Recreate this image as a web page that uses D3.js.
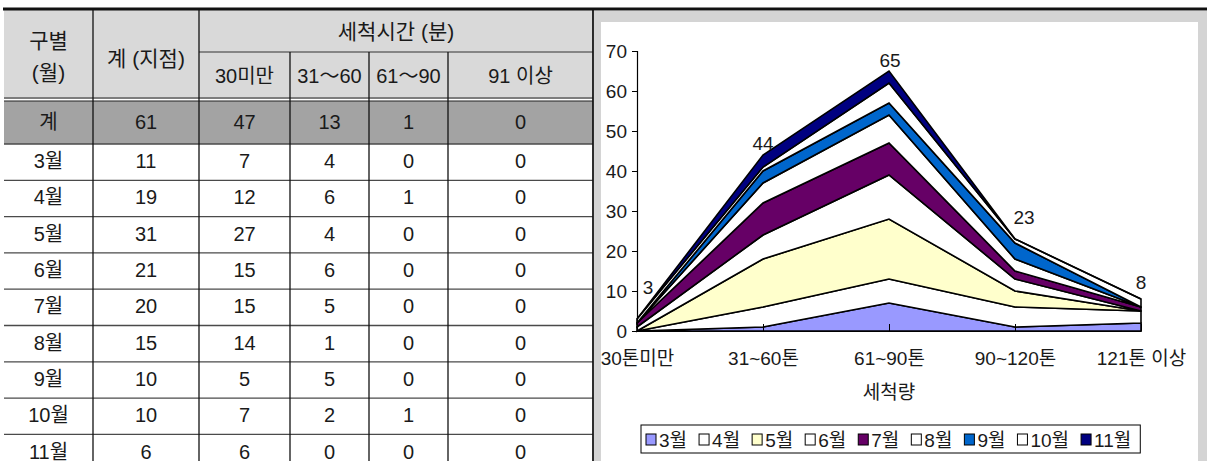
<!DOCTYPE html>
<html lang="ko">
<head>
<meta charset="utf-8">
<script src="https://cdn.jsdelivr.net/npm/d3@7"></script>
<style>
  html, body { margin: 0; padding: 0; background: #fff; }
  svg { display: block; }
  text { font-family: "Liberation Sans", "Noto Sans CJK KR", sans-serif; fill: #1a1a1a; }
</style>
</head>
<body>
<svg id="chart" width="1207" height="461"></svg>
<script>
// ---- Table: 월별 세척 지점 수 (세척시간별) ----
const tableMonths   = ["3월", "4월", "5월", "6월", "7월", "8월", "9월", "10월", "11월"];
const tableTotals   = [11, 19, 31, 21, 20, 15, 10, 10, 6];
const under30       = [7, 12, 27, 15, 15, 14, 5, 7, 6];
const from31to60    = [4, 6, 4, 6, 5, 1, 5, 2, 0];
const from61to90    = [0, 1, 0, 0, 0, 0, 0, 1, 0];
const over91        = [0, 0, 0, 0, 0, 0, 0, 0, 0];
const sumRow        = ["계", 61, 47, 13, 1, 0];
const timeHeaders   = ["30미만", "31～60", "61～90", "91  이상"];

// ---- Chart: 세척량별 월별 누적 ----
const categories = ["30톤미만", "31~60톤", "61~90톤", "90~120톤", "121톤 이상"];
const seriesNames = ["3월", "4월", "5월", "6월", "7월", "8월", "9월", "10월", "11월"];
const s3  = [0, 1, 7, 1, 2];
const s4  = [0, 5, 6, 5, 3];
const s5  = [0, 12, 15, 4, 0];
const s6  = [1, 6, 11, 3, 0];
const s7  = [1, 8, 8, 2, 1];
const s8  = [0, 5, 7, 3, 0];
const s9  = [0, 3, 3, 4, 0];
const s10 = [1, 1, 5, 1, 2];
const s11 = [0, 3, 3, 0, 0];
const yTicks = [0, 10, 20, 30, 40, 50, 60, 70];

const seriesValues = [s3, s4, s5, s6, s7, s8, s9, s10, s11];
const seriesColors = ["#9999ff", "#ffffff", "#ffffcc", "#ffffff", "#660066", "#ffffff", "#0066cc", "#ffffff", "#000080"];

const svg = d3.select("#chart");

// ================= table =================
const colX = [4, 93, 199, 290, 369, 448, 593];
const topY = 10, midY = 52, headBottom = 99, sumBottom = 144, rowH = 36.3;
const tbl = svg.append("g");

tbl.append("rect").attr("x", colX[0]).attr("y", topY).attr("width", colX[6] - colX[0])
  .attr("height", headBottom - topY).attr("fill", "#d9d9d9");
tbl.append("rect").attr("x", colX[0]).attr("y", headBottom + 2).attr("width", colX[6] - colX[0])
  .attr("height", sumBottom - headBottom - 2).attr("fill", "#a3a3a3");

// horizontal rules
const rowLines = d3.range(tableMonths.length + 1).map(i => sumBottom + i * rowH);
tbl.selectAll("line.row").data(rowLines).join("line")
  .attr("x1", colX[0]).attr("x2", colX[6]).attr("y1", d => d).attr("y2", d => d)
  .attr("stroke", "#4a4a4a").attr("stroke-width", 1.3);
tbl.append("line").attr("x1", colX[2]).attr("x2", colX[6]).attr("y1", midY).attr("y2", midY)
  .attr("stroke", "#333").attr("stroke-width", 1.2);
[headBottom - 1, headBottom + 2].forEach(y =>
  tbl.append("line").attr("x1", colX[0]).attr("x2", colX[6]).attr("y1", y).attr("y2", y)
    .attr("stroke", "#222").attr("stroke-width", 1.2));

// vertical rules
[[colX[1], topY], [colX[2], topY], [colX[3], midY], [colX[4], midY], [colX[5], midY], [colX[6], topY]]
  .forEach(([x, y]) => tbl.append("line").attr("x1", x).attr("x2", x).attr("y1", y).attr("y2", 470)
    .attr("stroke", "#111").attr("stroke-width", 1.3));

const cx = i => (colX[i] + colX[i + 1]) / 2;
function cell(txt, x, y, size) {
  tbl.append("text").attr("x", x).attr("y", y).attr("text-anchor", "middle")
    .attr("dominant-baseline", "central").attr("font-size", size || 20).text(txt);
}
cell("구별", cx(0), 40, 21);
cell("(월)", cx(0), 72, 21);
cell("계 (지점)", cx(1), 58, 21);
cell("세척시간 (분)", (colX[2] + colX[6]) / 2, 31, 21);
timeHeaders.forEach((h, i) => cell(h, cx(i + 2), 76));
sumRow.forEach((v, i) => cell(v, cx(i), 122));
tableMonths.forEach((m, r) => {
  const y = sumBottom + rowH * (r + 0.5) - 1;
  [m, tableTotals[r], under30[r], from31to60[r], from61to90[r], over91[r]]
    .forEach((v, c) => cell(v, cx(c), y));
});

// top heavy rule across the whole page
svg.append("line").attr("x1", 3).attr("x2", 1207).attr("y1", 9).attr("y2", 9)
  .attr("stroke", "#111").attr("stroke-width", 3);

// ================= chart =================
svg.append("rect").attr("x", 594).attr("y", 11).attr("width", 613).attr("height", 450).attr("fill", "#d4d4d4");
svg.append("rect").attr("x", 601).attr("y", 22).attr("width", 597).attr("height", 450).attr("fill", "#fff");
svg.append("line").attr("x1", 593).attr("x2", 593).attr("y1", 10).attr("y2", 461)
  .attr("stroke", "#111").attr("stroke-width", 1.3);

svg.append("clipPath").attr("id", "plotClip").append("rect")
  .attr("x", 601).attr("y", 22).attr("width", 597).attr("height", 450);
const g = svg.append("g").attr("clip-path", "url(#plotClip)");

const x = d3.scalePoint().domain(categories).range([637, 1141]);
const y = d3.scaleLinear().domain([0, 70]).range([331, 51]);

const rows = categories.map((c, i) => {
  const o = { cat: c };
  seriesNames.forEach((s, k) => o[s] = seriesValues[k][i]);
  return o;
});
const stacked = d3.stack().keys(seriesNames)(rows);

const area = d3.area()
  .x(d => x(d.data.cat))
  .y0(d => y(d[0]))
  .y1(d => y(d[1]));

g.selectAll("path.layer").data(stacked).join("path")
  .attr("d", area)
  .attr("fill", (d, i) => seriesColors[i])
  .attr("stroke", "#000")
  .attr("stroke-width", 1.6)
  .attr("stroke-linejoin", "miter");

// axes
const yAxis = d3.axisLeft(y).tickValues(yTicks).tickSize(5).tickPadding(5);
const ya = g.append("g").attr("transform", `translate(${x(categories[0])},0)`).call(yAxis);
ya.select(".domain").attr("stroke", "#000").attr("stroke-width", 1.2);
ya.selectAll(".tick line").attr("stroke", "#000");
ya.selectAll(".tick text").attr("font-size", 19).attr("fill", "#1a1a1a").attr("font-family", null);

const xAxis = d3.axisBottom(x).tickSize(-7).tickPadding(21).tickSizeOuter(0);
const xa = g.append("g").attr("transform", `translate(0,${y(0)})`).call(xAxis);
xa.select(".domain").attr("stroke", "#000").attr("stroke-width", 1.2);
xa.selectAll(".tick line").attr("stroke", "#000");
xa.selectAll(".tick text").attr("font-size", 19).attr("fill", "#1a1a1a").attr("font-family", null);

g.append("text").attr("x", (x.range()[0] + x.range()[1]) / 2).attr("y", 392)
  .attr("text-anchor", "middle").attr("dominant-baseline", "central")
  .attr("font-size", 19).text("세척량");

// totals above the stack
const totals = stacked[stacked.length - 1].map(d => d[1]);
const labelShift = [[11, -32], [0, -12], [1, -11], [9, -22], [0, -17]];
g.selectAll("text.total").data(totals).join("text")
  .attr("x", (d, i) => x(categories[i]) + labelShift[i][0])
  .attr("y", (d, i) => y(d) + labelShift[i][1])
  .attr("text-anchor", "middle").attr("dominant-baseline", "central")
  .attr("font-size", 19).text(d => d);

// legend
const lg = g.append("g");
const lgX = 641, lgY = 425, lgH = 28;
let cursor = lgX + 5;
seriesNames.forEach((s, i) => {
  lg.append("rect").attr("x", cursor).attr("y", lgY + 9).attr("width", 10).attr("height", 11)
    .attr("fill", seriesColors[i]).attr("stroke", "#000").attr("stroke-width", 1);
  const t = lg.append("text").attr("x", cursor + 13).attr("y", lgY + lgH / 2 + 1)
    .attr("dominant-baseline", "central").attr("font-size", 19).text(s);
  cursor += 13 + t.node().getComputedTextLength() + 12;
});
lg.insert("rect", ":first-child").attr("x", lgX).attr("y", lgY).attr("width", cursor - lgX - 3).attr("height", lgH)
  .attr("fill", "#fff").attr("stroke", "#000").attr("stroke-width", 1);
</script>
</body>
</html>
